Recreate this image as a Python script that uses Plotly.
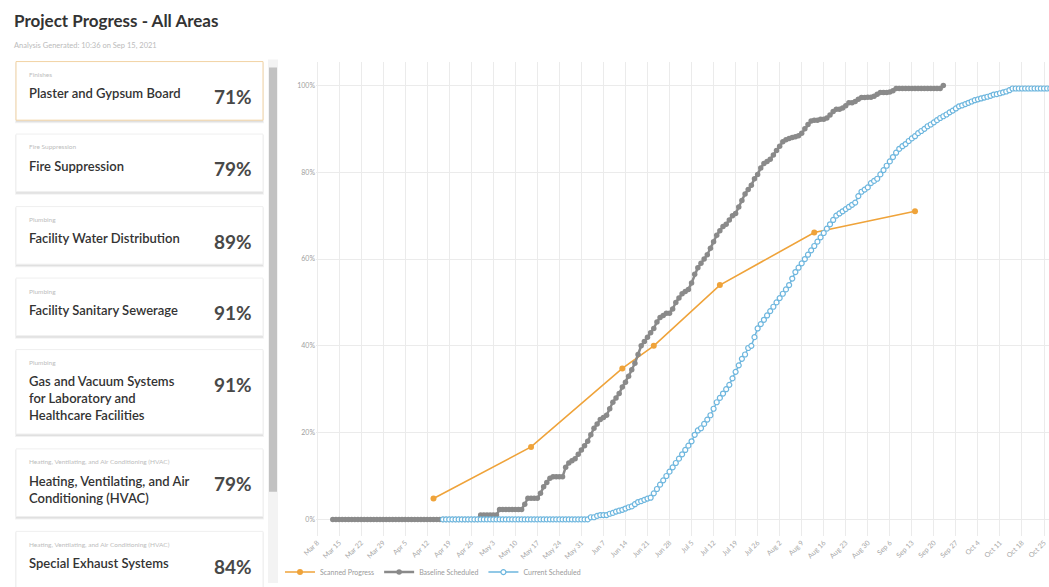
import pandas as pd
import plotly.graph_objects as go

# ---------------- data ----------------
title_text = "Project Progress - All Areas"
subtitle_text = "Analysis Generated: 10:36 on Sep 15, 2021"

card_categories = ["Finishes", "Fire Suppression", "Plumbing", "Plumbing", "Plumbing",
                   "Heating, Ventilating, and Air Conditioning (HVAC)",
                   "Heating, Ventilating, and Air Conditioning (HVAC)"]
card_titles = ["Plaster and Gypsum Board", "Fire Suppression", "Facility Water Distribution",
               "Facility Sanitary Sewerage",
               "Gas and Vacuum Systems<br>for Laboratory and<br>Healthcare Facilities",
               "Heating, Ventilating, and Air<br>Conditioning (HVAC)",
               "Special Exhaust Systems"]
card_percents = ["71%", "79%", "89%", "91%", "91%", "79%", "84%"]

scanned_dates = ["2021-04-14", "2021-05-15", "2021-06-13", "2021-06-23",
                 "2021-07-14", "2021-08-13", "2021-09-14"]
scanned_values = [4.8, 16.7, 34.8, 40.0, 54.0, 66.1, 71.0]

baseline_start = "2021-03-13"
baseline_values = [
    0, 0, 0, 0, 0, 0, 0, 0, 0, 0,
    0, 0, 0, 0, 0, 0, 0, 0, 0, 0,
    0, 0, 0, 0, 0, 0, 0, 0, 0, 0,
    0, 0, 0, 0, 0, 0, 0, 0, 0, 0,
    0, 0, 0, 0, 0, 0, 0,
    1, 1, 1, 1, 1, 1,
    2.3, 2.3, 2.3, 2.3, 2.3, 2.3, 2.3, 2.3, 3.5,
    4.9, 4.9, 4.9, 4.9, 6, 7.5, 8.5, 9.5,
    9.8, 9.8, 9.8, 9.8, 12, 13, 13.5, 14, 15, 16, 17, 18, 19.5,
    21, 22, 23, 23.5, 24, 25.5, 27, 28, 29, 30.5,
    31.6, 33, 34.5, 36, 38, 40, 41, 42, 43, 44,
    45.5, 46.5, 47, 47.5, 47.5, 48.5, 50, 51, 52, 52.5,
    53, 54.5, 56.5, 58, 59, 60, 61, 62.5, 64, 65.5,
    66.5, 67.5, 68, 69, 70, 70.5, 72, 73.5, 75, 76,
    77, 78.5, 79.5, 81, 82, 82.5, 83, 84, 85, 86,
    87, 87.5, 87.8, 88, 88.2, 88.4, 89, 90, 91, 91.8,
    92, 92, 92.2, 92.2, 92.5, 93.2, 94, 94.5, 94.5, 94.8,
    95.3, 96, 96, 96.3, 96.8, 97.2, 97.2, 97.3, 97.3, 97.5,
    98, 98.4, 98.4, 98.4, 98.5, 98.8, 99.3, 99.3, 99.3, 99.3,
    99.3, 99.3, 99.3, 99.3, 99.3, 99.3, 99.3, 99.3, 99.3, 99.3,
    99.3, 100,
]

current_start = "2021-04-17"
current_values = [
    0, 0, 0, 0, 0, 0, 0, 0, 0, 0,
    0, 0, 0, 0, 0, 0, 0, 0, 0, 0,
    0, 0, 0, 0, 0, 0, 0, 0, 0, 0,
    0, 0, 0, 0, 0, 0, 0, 0, 0, 0,
    0, 0, 0, 0, 0, 0, 0,
    0.5, 0.5, 0.8, 1, 1, 1, 1.3, 1.5, 1.8, 2,
    2.2, 2.5, 2.8, 3, 3.5, 4, 4.2, 4.5, 4.8, 5,
    6, 7, 8, 9, 10, 11, 12, 13, 14, 15,
    16, 17, 18, 19.5, 20.5, 21, 22, 23, 24, 25.5,
    27, 28, 29, 30, 31, 32.5, 34, 35.5, 37, 38,
    39.5, 40, 42, 44, 45, 46, 47, 48, 49, 50,
    51, 52, 53, 54, 55.5, 57, 58, 59, 60, 61,
    62, 63, 64, 65, 66, 67, 68, 69, 70, 70.5,
    71, 71.5, 72, 72.5, 73, 74.5, 75.5, 76, 76.5, 77.5,
    78, 78.5, 79.5, 80.5, 81.5, 82.5, 83.5, 84.5, 85.4, 86,
    86.5, 87.2, 87.8, 88.3, 89, 89.5, 90, 90.6, 91, 91.5,
    92, 92.5, 92.9, 93.3, 93.8, 94.2, 94.7, 95.2, 95.4, 95.7,
    96, 96.3, 96.6, 96.8, 97, 97.2, 97.4, 97.6, 97.9, 98,
    98.2, 98.4, 98.6, 98.9, 99.3, 99.3, 99.3, 99.3, 99.3, 99.3,
    99.3, 99.3, 99.3, 99.3, 99.3, 99.3, 99.3, 99.3, 99.3,
]

y_ticks = [0, 20, 40, 60, 80, 100]
y_tick_labels = ["0%", "20%", "40%", "60%", "80%", "100%"]

# ---------------- layout helpers ----------------
W, H = 1049, 587
def X(px):
    return px / W
def Y(py):
    return 1 - py / H

ORANGE = "#EFA33A"
GRAY = "#8A8A8A"
BLUE = "#6DB6DE"
FONT = "Lato"

fig = go.Figure()

fig.add_trace(go.Scatter(
    x=pd.to_datetime(scanned_dates), y=scanned_values, name="Scanned Progress",
    mode="lines+markers", line=dict(color=ORANGE, width=1.6),
    marker=dict(color=ORANGE, size=6)))

fig.add_trace(go.Scatter(
    x=pd.date_range(baseline_start, periods=len(baseline_values), freq="D"),
    y=baseline_values, name="Baseline Scheduled",
    mode="lines+markers", line=dict(color=GRAY, width=2.5),
    marker=dict(color=GRAY, size=5.5)))

fig.add_trace(go.Scatter(
    x=pd.date_range(current_start, periods=len(current_values), freq="D"),
    y=current_values, name="Current Scheduled",
    mode="lines+markers", line=dict(color=BLUE, width=1.5),
    marker=dict(color="white", size=5, line=dict(color=BLUE, width=1.2))))

shapes = []
annotations = []

# title
annotations.append(dict(x=X(12), y=Y(21), xref="paper", yref="paper", xanchor="left",
                        yanchor="middle", showarrow=False, text="<b>" + title_text + "</b>",
                        font=dict(family=FONT, size=17, color="#333333")))
annotations.append(dict(x=X(12), y=Y(46), xref="paper", yref="paper", xanchor="left",
                        yanchor="middle", showarrow=False, text=subtitle_text,
                        font=dict(family=FONT, size=7.5, color="#BBBBBB")))

# scrollbar
shapes.append(dict(type="rect", xref="paper", yref="paper", x0=X(268), x1=X(278),
                   y0=Y(587), y1=Y(60), fillcolor="#F3F3F3", line=dict(width=0), layer="below"))
shapes.append(dict(type="rect", xref="paper", yref="paper", x0=X(269), x1=X(277),
                   y0=Y(495), y1=Y(68), fillcolor="#C2C2C2", line=dict(width=0), layer="below"))

# cards
card_tops = [62, 135, 208, 280, 352, 452, 535]
card_bottoms = [121, 193, 266, 338, 437, 520, 600]
for i in range(len(card_titles)):
    t, b = card_tops[i], card_bottoms[i]
    shapes.append(dict(type="rect", xref="paper", yref="paper", x0=X(15), x1=X(264),
                       y0=Y(b + 3), y1=Y(t + 1), fillcolor="rgba(0,0,0,0.05)",
                       line=dict(width=0), layer="below"))
    shapes.append(dict(type="rect", xref="paper", yref="paper", x0=X(16), x1=X(263),
                       y0=Y(b + 2), y1=Y(t + 1), fillcolor="rgba(0,0,0,0.07)",
                       line=dict(width=0), layer="below"))
    border = "#F2D3A4" if i == 0 else "#EFEFEF"
    shapes.append(dict(type="rect", xref="paper", yref="paper", x0=X(16), x1=X(263),
                       y0=Y(b), y1=Y(t), fillcolor="white",
                       line=dict(width=1, color=border), layer="below"))
    annotations.append(dict(x=X(27), y=Y(t + 13), xref="paper", yref="paper",
                            xanchor="left", yanchor="middle", showarrow=False,
                            text=card_categories[i],
                            font=dict(family=FONT, size=6.5, color="#BDBDBD")))
    annotations.append(dict(x=X(27), y=Y(t + 22), xref="paper", yref="paper",
                            xanchor="left", yanchor="top", showarrow=False, align="left",
                            text=card_titles[i],
                            font=dict(family=FONT, size=13, color="#333333", weight=600)))
    annotations.append(dict(x=X(254), y=Y(t + 35), xref="paper", yref="paper",
                            xanchor="right", yanchor="middle", showarrow=False,
                            text="<b>" + card_percents[i] + "</b>",
                            font=dict(family=FONT, size=19, color="#484848")))

fig.update_layout(
    width=W, height=H,
    margin=dict(l=0, r=0, t=0, b=0),
    paper_bgcolor="white", plot_bgcolor="white",
    shapes=shapes, annotations=annotations,
    showlegend=True,
    legend=dict(orientation="h", x=X(280), y=Y(576), xanchor="left", yanchor="middle",
                font=dict(family=FONT, size=7, color="#9A9A9A"), bgcolor="rgba(0,0,0,0)"),
    xaxis=dict(domain=[X(316), 1.0], type="date",
               range=["2021-03-07 16:00", "2021-10-26 14:00"],
               tick0="2021-03-08", dtick=7 * 24 * 3600 * 1000, tickformat="%b %-d",
               tickangle=-45, tickfont=dict(family=FONT, size=7, color="#A8A8A8"),
               showgrid=True, gridcolor="#EBEBEB", gridwidth=1, zeroline=False,
               showline=False, ticks="", automargin=False),
    yaxis=dict(domain=[Y(540), Y(62)], range=[-3.9, 105.5],
               tickmode="array", tickvals=y_ticks, ticktext=y_tick_labels,
               tickfont=dict(family=FONT, size=7, color="#A0A0A0"),
               showgrid=True, gridcolor="#EBEBEB", gridwidth=1, zeroline=False,
               showline=False, ticks="", automargin=False),
)

fig.write_html("out.html")
